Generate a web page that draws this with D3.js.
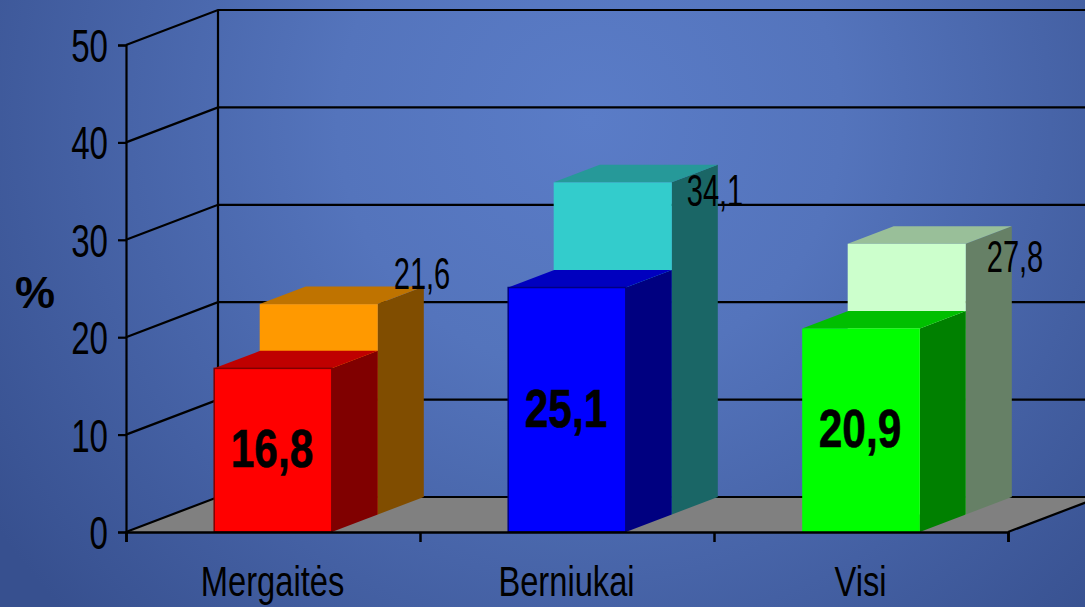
<!DOCTYPE html>
<html>
<head>
<meta charset="utf-8">
<script src="https://cdn.jsdelivr.net/npm/d3@7"></script>
<style>
html, body { margin: 0; padding: 0; overflow: hidden; background: #4a67ab; }
svg { display: block; }
text { fill: #000; font-family: "Liberation Sans", Arial, sans-serif; }
</style>
</head>
<body>
<div id="chart"></div>
<script>
var categories = ["Mergaitės", "Berniukai", "Visi"];
var frontValues = [16.8, 25.1, 20.9];
var backValues = [21.6, 34.1, 27.8];
var frontColors = ["#ff0000", "#0000ff", "#00ff00"];
var backColors = ["#ff9900", "#33cccc", "#ccffcc"];
var yTicks = [0, 10, 20, 30, 40, 50];

var width = 1085, height = 607;
var plot = {left: 126, right: 1008, top: 45, bottom: 532};
// one depth step of the 3d box, the wall sits two steps back
var depth = {x: 46, y: -17.5};
// hand placed labels of the back bars, as in the original
var backLabelNudge = [[103, -15], [102, 24], [108, 28]];

var svg = d3.select("#chart").append("svg").attr("width", width).attr("height", height);

var grad = svg.append("defs").append("radialGradient")
	.attr("id", "bg")
	.attr("gradientUnits", "userSpaceOnUse")
	.attr("cx", 590).attr("cy", 120).attr("r", 720);
grad.append("stop").attr("offset", "0%").attr("stop-color", "#5a7cc7");
grad.append("stop").attr("offset", "35%").attr("stop-color", "#5474bc");
grad.append("stop").attr("offset", "100%").attr("stop-color", "#37508f");
svg.append("rect").attr("width", width).attr("height", height).attr("fill", "url(#bg)");

var y = d3.scaleLinear().domain([0, 50]).range([plot.bottom, plot.top]);
var x = d3.scaleBand().domain(categories).range([plot.left, plot.right])
	.paddingInner(0.6).paddingOuter(0.3);
var xEdges = d3.scaleLinear().domain([0, 3]).range([plot.left, plot.right]);

var pts = function (list) {
	return list.map(function (p) { return p[0] + "," + p[1]; }).join(" ");
};

// floor
var wallX = plot.left + 92, wallY = 2 * depth.y;
svg.append("polygon")
	.attr("points", pts([
		[plot.left, plot.bottom], [plot.right, plot.bottom],
		[plot.right + 92, plot.bottom + wallY], [wallX, plot.bottom + wallY]
	]))
	.attr("fill", "#808080");

// gridlines over side wall and back wall
var grid = svg.append("g");
yTicks.forEach(function (t) {
	grid.append("polyline")
		.attr("points", pts([
			[plot.left, y(t)], [wallX, y(t) + wallY], [width + 5, y(t) + wallY]
		]))
		.attr("fill", "none").attr("stroke", "#000").attr("stroke-width", 2.2);
});
grid.append("line")
	.attr("x1", wallX).attr("x2", wallX)
	.attr("y1", y(0) + wallY).attr("y2", y(50) + wallY)
	.attr("stroke", "#000").attr("stroke-width", 2.2);
grid.append("line")
	.attr("x1", plot.right).attr("x2", plot.right + 92)
	.attr("y1", y(0)).attr("y2", y(0) + wallY)
	.attr("stroke", "#000").attr("stroke-width", 2.2);

var shade = function (c, f) {
	var r = d3.rgb(c);
	return d3.rgb(r.r * f, r.g * f, r.b * f).formatHex();
};

var drawBox = function (g, x0, w, bottom, top, color, edge) {
	g.append("polygon")
		.attr("points", pts([[x0 + w, bottom], [x0 + w + depth.x, bottom + depth.y], [x0 + w + depth.x, top + depth.y], [x0 + w, top]]))
		.attr("fill", shade(color, 0.5));
	g.append("polygon")
		.attr("points", pts([[x0, top], [x0 + w, top], [x0 + w + depth.x, top + depth.y], [x0 + depth.x, top + depth.y]]))
		.attr("fill", shade(color, 0.75));
	g.append("rect")
		.attr("x", x0).attr("y", top).attr("width", w).attr("height", bottom - top)
		.attr("fill", color)
		.attr("stroke", edge ? shade(color, 0.5) : "none")
		.attr("stroke-width", edge ? 1.5 : 0);
};

// back row of bars
var backRow = svg.append("g");
categories.forEach(function (c, i) {
	drawBox(backRow, x(c) + depth.x - 0.5, x.bandwidth() + 0.5, y(0) + depth.y, y(backValues[i]) + depth.y, backColors[i], false);
});

// back row labels
var fmt = function (v) { return String(v).replace(".", ","); };
categories.forEach(function (c, i) {
	svg.append("text")
		.attr("transform", "translate(" + (x(c) + x.bandwidth() / 2 + depth.x + backLabelNudge[i][0]) + "," + (y(backValues[i]) + depth.y + backLabelNudge[i][1]) + ") scale(0.66,1)")
		.attr("text-anchor", "middle")
		.attr("font-size", 44)
		.text(fmt(backValues[i]));
});

// front row of bars
var frontRow = svg.append("g");
categories.forEach(function (c, i) {
	drawBox(frontRow, x(c), x.bandwidth(), y(0), y(frontValues[i]), frontColors[i], i < 2);
});
categories.forEach(function (c, i) {
	svg.append("text")
		.attr("transform", "translate(" + (x(c) + x.bandwidth() / 2 - 1) + "," + ((y(0) + y(frontValues[i])) / 2 + 17) + ") scale(0.8,1)")
		.attr("text-anchor", "middle")
		.attr("font-size", 53)
		.attr("font-weight", "bold")
		.attr("stroke", "#000")
		.attr("stroke-width", 0.6)
		.text(fmt(frontValues[i]));
});

// axes
var yAxis = svg.append("g")
	.attr("transform", "translate(" + plot.left + ",0)")
	.call(d3.axisLeft(y).tickValues(yTicks).tickSize(8).tickPadding(10).tickFormat(d3.format("d")));
yAxis.selectAll("path, line").attr("stroke", "#000").attr("stroke-width", 2.2);
yAxis.selectAll("text")
	.attr("font-size", 46)
	.attr("font-family", '"Liberation Sans", Arial, sans-serif')
	.attr("dy", "0.36em")
	.attr("x", -18 / 0.72)
	.attr("transform", "scale(0.72,1)");

var xTickAxis = svg.append("g")
	.attr("transform", "translate(0," + plot.bottom + ")")
	.call(d3.axisBottom(xEdges).tickValues([0, 1, 2, 3]).tickSize(10).tickFormat(""));
xTickAxis.selectAll("path, line").attr("stroke", "#000").attr("stroke-width", 2.5);

var xAxis = svg.append("g")
	.attr("transform", "translate(0," + plot.bottom + ")")
	.call(d3.axisBottom(x).tickSize(0));
xAxis.select("path").remove();
xAxis.selectAll(".tick").attr("transform", null);
xAxis.selectAll("text")
	.attr("font-size", 43)
	.attr("font-family", '"Liberation Sans", Arial, sans-serif')
	.attr("dy", 0)
	.attr("y", 64)
	.attr("x", 0)
	.attr("transform", function (d) {
		return "translate(" + (x(d) + x.bandwidth() / 2 - 0.5) + ",0) scale(0.76,1)";
	});

// unit label
svg.append("text")
	.attr("x", 35).attr("y", 308)
	.attr("text-anchor", "middle")
	.attr("font-family", '"Liberation Serif", "Times New Roman", serif')
	.attr("font-weight", "bold")
	.attr("font-size", 45)
	.text("%");
</script>
</body>
</html>
